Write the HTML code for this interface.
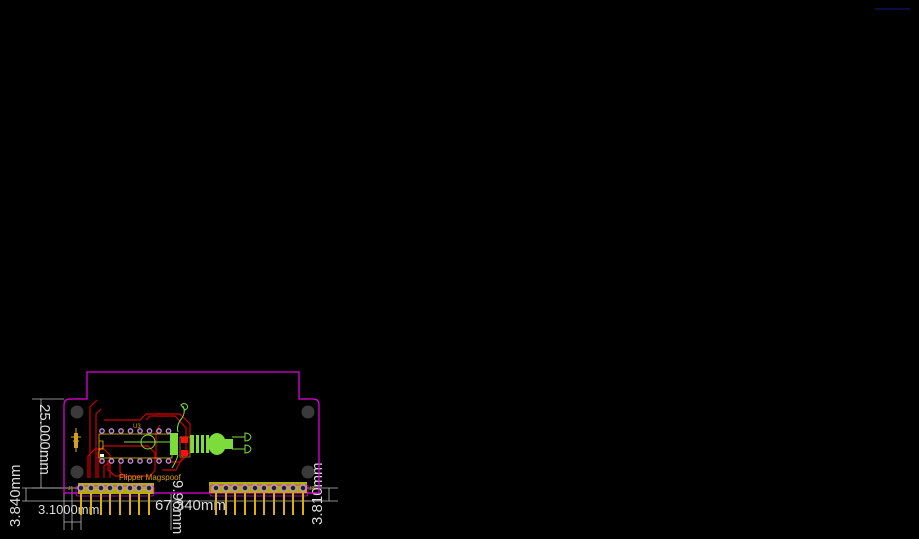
<!DOCTYPE html>
<html><head><meta charset="utf-8"><style>
html,body{margin:0;padding:0;background:#000;width:919px;height:539px;overflow:hidden}
svg{display:block}
text{font-family:"Liberation Sans",sans-serif}
</style></head><body>
<svg width="919" height="539" viewBox="0 0 919 539" xmlns="http://www.w3.org/2000/svg">
<rect width="919" height="539" fill="#000"/>
<line x1="875" y1="9" x2="910" y2="9" stroke="#1a1a8a" stroke-width="1"/>

<!-- dimension lines (grey) -->
<g stroke="#bbb" stroke-width="0.8" fill="none">
<line x1="32" y1="399" x2="64" y2="399"/>
<line x1="32" y1="488" x2="78" y2="488"/>
<line x1="41" y1="399" x2="41" y2="488"/>
<line x1="22" y1="488" x2="80" y2="488"/>
<line x1="22" y1="501" x2="160" y2="501"/>
<line x1="26" y1="488" x2="26" y2="501"/>
<line x1="64" y1="490" x2="64" y2="530"/>
<line x1="72" y1="490" x2="72" y2="530"/>
<line x1="81" y1="490" x2="81" y2="530"/>
<line x1="64" y1="522" x2="81" y2="522"/>
<line x1="171" y1="494" x2="171" y2="530"/>
<line x1="160" y1="501" x2="310" y2="501"/>
<line x1="300" y1="488" x2="338" y2="488"/>
<line x1="300" y1="501" x2="338" y2="501"/>
<line x1="329" y1="488" x2="329" y2="501"/>
</g>
<g fill="#ddd" font-size="15">
<text transform="translate(40,404) rotate(90)">25.000mm</text>
<text transform="translate(20,527) rotate(-90)">3.840mm</text>
<text transform="translate(322,525) rotate(-90)">3.810mm</text>
<text transform="translate(173,480) rotate(90)">9.96mm</text>
<text x="155" y="510">67.340mm</text>
<text x="38" y="514" font-size="13">3.1000mm</text>
</g>

<!-- board outline -->
<path d="M87,399 L87,372 L299,372 L299,399 L313,399 Q319,399 319,405 L319,493 L64,493 L64,405 Q64,399 70,399 Z" fill="none" stroke="#e000e0" stroke-width="1.3"/>

<!-- holes -->
<g fill="#3a3a3a">
<circle cx="77" cy="412" r="6.5"/><circle cx="308" cy="412" r="6.5"/>
<circle cx="77" cy="472" r="6.5"/><circle cx="308" cy="472" r="6.5"/>
</g>

<!-- red traces -->
<g stroke="#d00000" stroke-width="1.2" fill="none">
<path d="M97,400 L90,407 L90,478"/>
<path d="M101,409 L96,414 L96,478"/>
<path d="M88,478 L88,456 L95,449 L104,449 L110,455 L110,478"/>
<path d="M98,478 L98,452 L104,446 L148,446 L155,453 L155,470 L150,476 L115,476 L108,470 L108,460"/>
<path d="M104,420 L140,420 L146,414 L180,414 L190,424 L190,452 L180,462 L168,462"/>
<path d="M146,420 L150,416 L175,416 L186,428 L186,450 L176,470 L162,470"/>
<path d="M104,478 L104,466 L112,460"/>
<path d="M120,462 L120,472 L126,478"/>
<path d="M160,425 L156,432 L156,458 L162,462"/>
</g>
<!-- yellow silkscreen IC outline -->
<rect x="99" y="434" width="73" height="24" fill="none" stroke="#e0c000" stroke-width="0.8"/>
<path d="M99,441 L103,441 L103,449 L99,449" fill="none" stroke="#e0c000" stroke-width="0.8"/>
<text x="133" y="428" fill="#e0a000" font-size="6">U3</text>
<!-- green parts -->
<g stroke="#7cdc3c" fill="none" stroke-width="1">
<circle cx="148" cy="442" r="7"/>
<path d="M124,442 L172,442"/>
<path d="M178,432 Q176,425 182,418 Q186,412 183,406"/>
<path d="M178,455 Q176,462 172,468"/>
<path d="M181,405 q3,-3 6,0 q2,3 -2,5 z"/>
<path d="M232,437 L245,437 M232,449 L245,449"/>
<path d="M245,433 q5,0 6,4 q-1,4 -6,4 z M245,445 q5,0 6,4 q-1,4 -6,4 z"/>
</g>
<g fill="#7cdc3c">
<rect x="170" y="433" width="8" height="22"/>
<rect x="190" y="435" width="4" height="18"/>
<rect x="196" y="435" width="3" height="18"/>
<rect x="201" y="435" width="3" height="18"/>
<rect x="206" y="435" width="3" height="18"/>
<ellipse cx="217" cy="444" rx="9" ry="11"/>
<rect x="225" y="439" width="8" height="10"/>
</g>
<rect x="180" y="437" width="10" height="20" fill="none" stroke="#c08020" stroke-width="0.8"/>
<rect x="181" y="437" width="7" height="6" fill="#ff1010"/>
<rect x="181" y="450" width="7" height="6" fill="#ff1010"/>
<!-- left small part -->
<g stroke="#e0b000" stroke-width="1" fill="none">
<path d="M76,428 L76,452 M71,437 L81,437 M73,441 L79,441"/>
</g>
<rect x="74" y="433" width="4" height="15" fill="#d0a020"/>
<!-- U3 pads -->
<g fill="#1a0a1a" stroke="#c090d0" stroke-width="1.3">
<circle cx="102" cy="431" r="2.2"/><circle cx="111.5" cy="431" r="2.2"/><circle cx="121" cy="431" r="2.2"/><circle cx="130.5" cy="431" r="2.2"/><circle cx="140" cy="431" r="2.2"/><circle cx="149.5" cy="431" r="2.2"/><circle cx="159" cy="431" r="2.2"/><circle cx="168.5" cy="431" r="2.2"/>
<circle cx="102" cy="461" r="2.2"/><circle cx="111.5" cy="461" r="2.2"/><circle cx="121" cy="461" r="2.2"/><circle cx="130.5" cy="461" r="2.2"/><circle cx="140" cy="461" r="2.2"/><circle cx="149.5" cy="461" r="2.2"/><circle cx="159" cy="461" r="2.2"/><circle cx="168.5" cy="461" r="2.2"/>
</g>
<rect x="100" y="454" width="4" height="3" fill="#fff"/>
<text x="119" y="480" fill="#e0a000" font-size="8">Flipper  Magspoof</text>

<!-- headers -->
<rect x="78" y="483" width="76" height="11" fill="#b0b000"/>
<rect x="76" y="486" width="78" height="10" fill="none" stroke="#e000e0" stroke-width="0.8" rx="2"/>
<rect x="209" y="482" width="98" height="11" fill="#b0b000"/>
<rect x="210" y="485" width="98" height="11" fill="none" stroke="#e000e0" stroke-width="0.8" rx="2"/>
<g fill="#e0b000">
<rect x="80" y="493" width="2" height="22"/><rect x="90" y="493" width="2" height="22"/><rect x="100" y="493" width="2" height="22"/><rect x="109" y="493" width="2" height="22"/><rect x="119" y="493" width="2" height="22"/><rect x="129" y="493" width="2" height="22"/><rect x="138" y="493" width="2" height="22"/><rect x="148" y="493" width="2" height="22"/>
<rect x="215" y="493" width="2" height="22"/><rect x="225" y="493" width="2" height="22"/><rect x="234" y="493" width="2" height="22"/><rect x="244" y="493" width="2" height="22"/><rect x="254" y="493" width="2" height="22"/><rect x="263" y="493" width="2" height="22"/><rect x="273" y="493" width="2" height="22"/><rect x="283" y="493" width="2" height="22"/><rect x="292" y="493" width="2" height="22"/><rect x="302" y="493" width="2" height="22"/>
</g>
<g fill="#222" stroke="#c090d0" stroke-width="1.5">
<circle cx="81" cy="488" r="3"/><circle cx="91" cy="488" r="3"/><circle cx="101" cy="488" r="3"/><circle cx="110" cy="488" r="3"/><circle cx="120" cy="488" r="3"/><circle cx="130" cy="488" r="3"/><circle cx="139" cy="488" r="3"/><circle cx="149" cy="488" r="3"/>
<circle cx="216" cy="488" r="3"/><circle cx="226" cy="488" r="3"/><circle cx="235" cy="488" r="3"/><circle cx="245" cy="488" r="3"/><circle cx="255" cy="488" r="3"/><circle cx="264" cy="488" r="3"/><circle cx="274" cy="488" r="3"/><circle cx="284" cy="488" r="3"/><circle cx="293" cy="488" r="3"/><circle cx="303" cy="488" r="3"/>
</g>
<text x="68" y="490" fill="#e0a000" font-size="5">J1</text>
<text x="309" y="490" fill="#e0a000" font-size="5">J2</text>
</svg>
</body></html>
